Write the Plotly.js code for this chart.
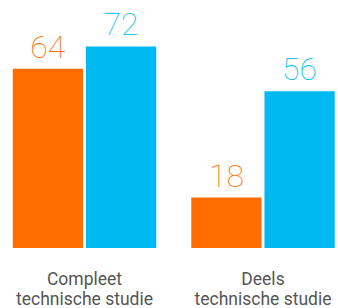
<!DOCTYPE html>
<html>
<head>
<meta charset="utf-8">
<script src="https://cdn.plot.ly/plotly-3.0.1.min.js"></script>
<style>html,body{margin:0;padding:0;background:#fff;}#chart{width:338px;height:308px;}</style>
</head>
<body>
<div id="chart"></div>
<script>
var categories = ["Compleet technische studie", "Deels technische studie"];
var labelLine1 = ["Compleet", "Deels"];
var labelLine2 = ["technische studie", "technische studie"];
var seriesA = [64, 18];
var seriesB = [72, 56];
var colorA = "#FF6C00";
var colorB = "#00B9F1";
var valueFont = "Roboto";

var traces = [
  {type: "bar", x: categories, y: seriesA, marker: {color: colorA},
   text: seriesA.map(String), textposition: "outside", cliponaxis: false,
   textfont: {family: valueFont, size: 32, weight: 100, color: colorA}, hoverinfo: "none"},
  {type: "bar", x: categories, y: seriesB, marker: {color: colorB},
   text: seriesB.map(String), textposition: "outside", cliponaxis: false,
   textfont: {family: valueFont, size: 32, weight: 100, color: colorB}, hoverinfo: "none"},
  {type: "scatter", mode: "markers", x: categories, y: [null, null], xaxis: "x2",
   showlegend: false, hoverinfo: "none"}
];

var tickFont = {family: "Roboto", size: 17.5, color: "#555"};
var layout = {
  width: 338, height: 308,
  margin: {l: 0, r: 0, t: 10, b: 60},
  paper_bgcolor: "#fff", plot_bgcolor: "#fff",
  showlegend: false,
  barmode: "group", bargap: 0.18, bargroupgap: 0.04,
  xaxis: {type: "category", range: [-0.4734, 1.4202], showgrid: false, zeroline: false, showline: false,
          ticks: "", tickmode: "array", tickvals: categories, ticktext: labelLine1,
          ticklabelstandoff: 18, tickfont: tickFont},
  xaxis2: {type: "category", overlaying: "x", side: "bottom", matches: "x", range: [-0.4734, 1.4202],
           showgrid: false, zeroline: false, showline: false,
           ticks: "", tickmode: "array", tickvals: categories, ticktext: labelLine2,
           ticklabelstandoff: 38, tickfont: tickFont},
  yaxis: {range: [0, 85], visible: false, showgrid: false, zeroline: false},
  font: {family: "Roboto"}
};

Plotly.newPlot("chart", traces, layout, {displayModeBar: false, staticPlot: true});
</script>
</body>
</html>
